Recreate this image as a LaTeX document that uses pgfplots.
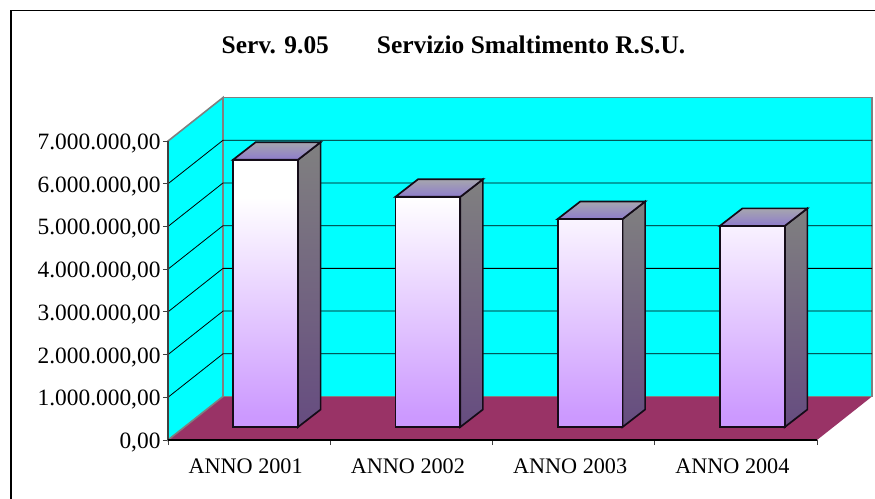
\documentclass[border=0pt]{standalone}
\usepackage{fontspec}
\setmainfont{Liberation Serif}
\usepackage{pgfplots}
\usepackage{pgfplotstable}
\pgfplotsset{compat=1.18}
\definecolor{wallc}{HTML}{00FFFF}
\definecolor{floorc}{HTML}{993366}
\definecolor{edgec}{HTML}{808080}
\definecolor{lilac}{HTML}{CC99FF}
\definecolor{sidebot}{HTML}{664C80}
\definecolor{axc}{HTML}{404040}
\definecolor{topback}{HTML}{A6A6AE}
\definecolor{topfront}{HTML}{8E7CCC}
\definecolor{barline}{HTML}{140C18}
\pgfdeclareverticalshading{barfront}{100bp}{color(0bp)=(lilac);color(27bp)=(lilac);color(68bp)=(white);color(100bp)=(white)}
\pgfplotstableread{
x v
0.5 6260000
1.5 5390000
2.5 4870000
3.5 4710000
}\bars
\begin{document}
\begin{tikzpicture}[x=1pt,y=1pt]
\path[use as bounding box] (0,0) rectangle (875,498);
\draw[black,line width=1.4pt] (11,-1)--(11,487.4)--(876,487.4);
\begin{axis}[
  at={(168pt,58pt)},anchor=south west,
  scale only axis,width=704pt,height=342.5pt,
  xmin=0,xmax=4.339,ymin=0,ymax=8020000,
  axis line style={draw=none},
  clip=false,
  ytick={0,1000000,2000000,3000000,4000000,5000000,6000000,7000000},
  xtick={0.5,1.5,2.5,3.5},
  xticklabels={ANNO 2001,ANNO 2002,ANNO 2003,ANNO 2004},
  minor xtick={0,1,2,3,4},
  xtick pos=bottom,ytick pos=left,
  tick align=outside,
  major tick length=5pt,minor tick length=5pt,
  x tick style={draw=none},
  minor x tick style={draw=axc,line width=0.9pt},
  y tick style={draw=axc,line width=0.9pt},
  scaled y ticks=false,
  yticklabel style={font=\fontsize{23.4}{27}\selectfont,text=black,xshift=1pt,yshift=-2.5pt,/pgf/number format/.cd,fixed,fixed zerofill,precision=2,1000 sep={.},dec sep={,},assume math mode=true},
  xticklabel style={font=\fontsize{22.2}{26}\selectfont,text=black,yshift=-10pt,xshift=-3.5pt},
  title={\textbf{Serv. 9.05\hspace{48pt}Servizio Smaltimento R.S.U.}},
  title style={at={(0.4055,1.135)},anchor=center,font=\fontsize{25.4}{29}\selectfont},
]
% floor and walls
\addplot[fill=floorc,draw=none] coordinates {(0,0)(4,0)(4.339,1018700)(0.339,1018700)} --cycle;
\addplot[fill=wallc,draw=edgec,line width=1.6pt] coordinates {(0.339,1018700)(4.339,1018700)(4.339,8018700)(0.339,8018700)} --cycle;
\addplot[fill=wallc,draw=edgec,line width=1.6pt] coordinates {(0,0)(0.339,1018700)(0.339,8018700)(0,7000000)} --cycle;
% gridlines
\addplot[black,line width=0.8pt] coordinates {(0,1000000)(0.339,2018700)(4.339,2018700)};
\addplot[black,line width=0.8pt] coordinates {(0,2000000)(0.339,3018700)(4.339,3018700)};
\addplot[black,line width=0.8pt] coordinates {(0,3000000)(0.339,4018700)(4.339,4018700)};
\addplot[black,line width=0.8pt] coordinates {(0,4000000)(0.339,5018700)(4.339,5018700)};
\addplot[black,line width=0.8pt] coordinates {(0,5000000)(0.339,6018700)(4.339,6018700)};
\addplot[black,line width=0.8pt] coordinates {(0,6000000)(0.339,7018700)(4.339,7018700)};
% axis lines
\addplot[axc,line width=1.4pt] coordinates {(0,0)(0,7000000)};
\addplot[black,line width=1.6pt] coordinates {(0,0)(4,0)};
\end{axis}
\begin{axis}[
  at={(168pt,58pt)},anchor=south west,
  scale only axis,width=704pt,height=342.5pt,
  xmin=-0.1017,xmax=4.2373,ymin=-304000,ymax=7716000,
  hide axis,clip=false,
]
% side faces
\addplot[draw=barline,line width=1.7pt,top color=edgec,bottom color=sidebot] coordinates {(0.7,0)(0.839,410000)(0.839,6670000)(0.7,6260000)} --cycle;
\addplot[draw=barline,line width=1.7pt,top color=edgec,bottom color=sidebot] coordinates {(1.7,0)(1.839,410000)(1.839,5800000)(1.7,5390000)} --cycle;
\addplot[draw=barline,line width=1.7pt,top color=edgec,bottom color=sidebot] coordinates {(2.7,0)(2.839,410000)(2.839,5280000)(2.7,4870000)} --cycle;
\addplot[draw=barline,line width=1.7pt,top color=edgec,bottom color=sidebot] coordinates {(3.7,0)(3.839,410000)(3.839,5120000)(3.7,4710000)} --cycle;
% top faces
\addplot[draw=barline,line width=1.7pt,top color=topback,bottom color=topfront] coordinates {(0.3,6260000)(0.7,6260000)(0.839,6670000)(0.439,6670000)} --cycle;
\addplot[draw=barline,line width=1.7pt,top color=topback,bottom color=topfront] coordinates {(1.3,5390000)(1.7,5390000)(1.839,5800000)(1.439,5800000)} --cycle;
\addplot[draw=barline,line width=1.7pt,top color=topback,bottom color=topfront] coordinates {(2.3,4870000)(2.7,4870000)(2.839,5280000)(2.439,5280000)} --cycle;
\addplot[draw=barline,line width=1.7pt,top color=topback,bottom color=topfront] coordinates {(3.3,4710000)(3.7,4710000)(3.839,5120000)(3.439,5120000)} --cycle;
% front faces
\addplot[ybar,bar shift=0pt,bar width=64.9pt,draw=barline,line width=1.7pt,shade,shading=barfront] table[x=x,y=v] {\bars};
\end{axis}
\end{tikzpicture}
\end{document}
